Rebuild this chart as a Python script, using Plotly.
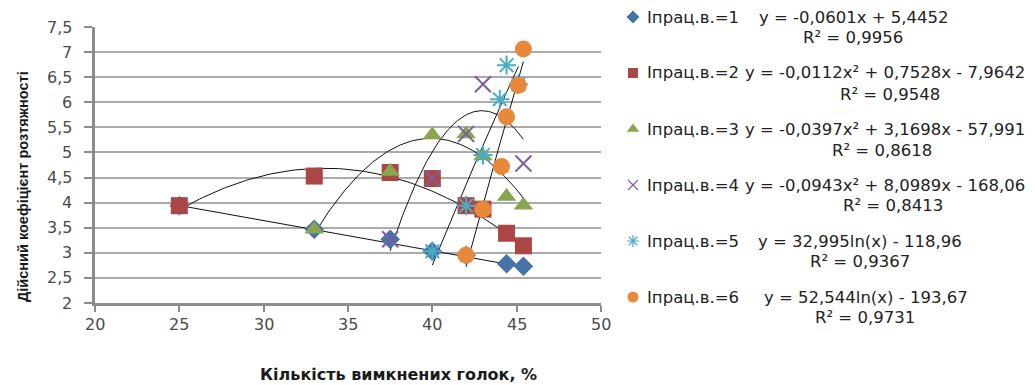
import numpy as np
import plotly.graph_objects as go

W, H = 1035, 385

# Measured points per working-needle group
x1 = [25, 33, 37.5, 40, 42, 44.4, 45.4]
y1 = [3.94, 3.47, 3.27, 3.03, 2.95, 2.78, 2.73]

x2 = [25, 33, 37.5, 40, 42, 43, 44.4, 45.4]
y2 = [3.94, 4.53, 4.60, 4.48, 3.94, 3.87, 3.39, 3.14]

x3 = [33, 37.5, 40, 42, 43, 44.4, 45.4]
y3 = [3.47, 4.62, 5.35, 5.37, 4.93, 4.12, 3.95]

x4 = [37.5, 40, 42, 43, 45.4]
y4 = [3.27, 4.48, 5.37, 6.36, 4.78]

x5 = [40, 42, 43, 44, 44.4, 45.1]
y5 = [3.03, 3.94, 4.95, 6.06, 6.74, 6.36]

x6 = [42, 43, 44.1, 44.4, 45.1, 45.4]
y6 = [2.95, 3.87, 4.72, 5.71, 6.34, 7.06]

names = ["Іпрац.в.=1", "Іпрац.в.=2", "Іпрац.в.=3", "Іпрац.в.=4", "Іпрац.в.=5", "Іпрац.в.=6"]

# Trend-line coefficients
lin1 = [-0.0601, 5.4452]                 # a*x + b
quad2 = [-0.0112, 0.7528, -7.9642]       # a*x^2 + b*x + c
quad3 = [-0.0397, 3.1698, -57.991]
quad4 = [-0.0943, 8.0989, -168.06]
log5 = [32.995, -118.96]                 # a*ln(x) + b
log6 = [52.544, -193.67]

equations = [
    "y = -0,0601x + 5,4452",
    "y = -0,0112x² + 0,7528x - 7,9642",
    "y = -0,0397x² + 3,1698x - 57,991",
    "y = -0,0943x² + 8,0989x - 168,06",
    "y = 32,995ln(x) - 118,96",
    "y = 52,544ln(x) - 193,67",
]
r2_labels = ["R² = 0,9956", "R² = 0,9548", "R² = 0,8618", "R² = 0,8413", "R² = 0,9367", "R² = 0,9731"]

x_ticks = [20, 25, 30, 35, 40, 45, 50]
y_ticks = [2, 2.5, 3, 3.5, 4, 4.5, 5, 5.5, 6, 6.5, 7, 7.5]
y_tick_text = ["2", "2,5", "3", "3,5", "4", "4,5", "5", "5,5", "6", "6,5", "7", "7,5"]

colors = ["#4572A7", "#AA4643", "#89A54E", "#7D5FA0", "#4BACC6", "#E8883A"]
symbols = ["diamond", "square", "triangle-up", "x-thin-open", "asterisk-open", "circle"]
sizes = [15, 17, 17, 16, 16, 17]

series = [(x1, y1), (x2, y2), (x3, y3), (x4, y4), (x5, y5), (x6, y6)]


def trend(i, xs):
    xs = np.asarray(xs, dtype=float)
    if i == 0:
        return lin1[0] * xs + lin1[1]
    if i in (1, 2, 3):
        a, b, c = [quad2, quad3, quad4][i - 1]
        return a * xs ** 2 + b * xs + c
    a, b = [log5, log6][i - 4]
    return a * np.log(xs) + b


fig = go.Figure()

# Trend lines first, so markers sit on top
for i, (xs, ys) in enumerate(series):
    tx = np.linspace(min(xs), max(xs), 120)
    fig.add_trace(go.Scatter(x=tx, y=trend(i, tx), mode="lines",
                             line=dict(color="#111111", width=1),
                             hoverinfo="skip", showlegend=False))

for i, (xs, ys) in enumerate(series):
    is_line_sym = symbols[i] in ("x-thin-open", "asterisk-open")
    fig.add_trace(go.Scatter(
        x=xs, y=ys, mode="markers", name=names[i], showlegend=False,
        marker=dict(symbol=symbols[i], size=sizes[i], color=colors[i],
                    line=dict(color=colors[i], width=2 if is_line_sym else 0)),
    ))

# Legend on a pixel-based overlay axis
leg_y = [17, 73, 129, 185, 241, 297]
leg_sizes = [10, 10, 11, 10, 10, 11]
for i in range(6):
    is_line_sym = symbols[i] in ("x-thin-open", "asterisk-open")
    fig.add_trace(go.Scatter(
        x=[633], y=[leg_y[i]], mode="markers", xaxis="x2", yaxis="y2",
        showlegend=False, hoverinfo="skip",
        marker=dict(symbol=symbols[i], size=leg_sizes[i], color=colors[i],
                    line=dict(color=colors[i], width=1.2 if is_line_sym else 0)),
    ))

annotations = []
txt_font = dict(family="DejaVu Sans, sans-serif", size=16.5, color="#222222")
eq_left = [757, 743, 743, 743, 756, 762]
r2_center = [853, 890, 882, 893, 860, 865]
r2_y = [37, 95, 150, 206, 261, 317]
for i in range(6):
    annotations.append(dict(x=645 / W, y=1 - leg_y[i] / H, xref="paper", yref="paper",
                            text=names[i], showarrow=False, xanchor="left", yanchor="middle",
                            font=txt_font))
    annotations.append(dict(x=eq_left[i] / W, y=1 - leg_y[i] / H, xref="paper", yref="paper",
                            text=equations[i], showarrow=False, xanchor="left", yanchor="middle",
                            font=txt_font))
    annotations.append(dict(x=r2_center[i] / W, y=1 - r2_y[i] / H, xref="paper", yref="paper",
                            text=r2_labels[i], showarrow=False, xanchor="center", yanchor="middle",
                            font=txt_font))

# Tick labels, placed with a wider gap from the axis
tick_font = dict(family="DejaVu Sans, sans-serif", size=16, color="#4a4a4a")
for v, t in zip(y_ticks, y_tick_text):
    annotations.append(dict(x=74 / W, y=v, xref="paper", yref="y", text=t, showarrow=False,
                            xanchor="right", yanchor="middle", font=tick_font))
for v in x_ticks:
    annotations.append(dict(x=v, y=1 - 324 / H, xref="x", yref="paper", text=str(v),
                            showarrow=False, xanchor="center", yanchor="middle",
                            font=tick_font))

# Axis titles
annotations.append(dict(x=398 / W, y=1 - 374 / H, xref="paper", yref="paper",
                        text="<b>Кількість вимкнених голок, %</b>", showarrow=False,
                        xanchor="center", yanchor="middle",
                        font=dict(family="DejaVu Sans, sans-serif", size=16, color="#1a1a1a")))
annotations.append(dict(x=23 / W, y=1 - 187 / H, xref="paper", yref="paper",
                        text="<b>Дійсний коефіцієнт розтяжності</b>", showarrow=False,
                        textangle=-90, xanchor="center", yanchor="middle",
                        font=dict(family="Liberation Sans Narrow, Arial Narrow, sans-serif",
                                  size=14.5, color="#1a1a1a")))

x0, x1p = 95, 601
y_top, y_bot = 27, 303

fig.update_layout(
    width=W, height=H,
    margin=dict(l=0, r=0, t=0, b=0, autoexpand=False),
    paper_bgcolor="white", plot_bgcolor="rgba(0,0,0,0)",
    showlegend=False,
    xaxis=dict(domain=[x0 / W, x1p / W], range=[20, 50], tickvals=x_ticks,
               showticklabels=False,
               showgrid=False, zeroline=False, showline=True, linecolor="#8c8c8c",
               linewidth=3, ticks="outside", ticklen=6, tickwidth=2, tickcolor="#8c8c8c",
               anchor="y", automargin=False, fixedrange=True),
    yaxis=dict(domain=[1 - y_bot / H, 1 - y_top / H], range=[2, 7.5], tickvals=y_ticks,
               showticklabels=False,
               showgrid=True, gridcolor="#ababab", gridwidth=1.5, zeroline=False,
               showline=True, linecolor="#8c8c8c", linewidth=3, ticks="outside",
               ticklen=8, tickwidth=2, tickcolor="#8c8c8c",
               anchor="x", automargin=False, fixedrange=True),
    xaxis2=dict(domain=[0, 1], range=[0, W], visible=False, anchor="y2",
                automargin=False, fixedrange=True),
    yaxis2=dict(domain=[0, 1], range=[H, 0], visible=False, anchor="x2",
                automargin=False, fixedrange=True),
    annotations=annotations,
)

fig.write_html("out.html")
